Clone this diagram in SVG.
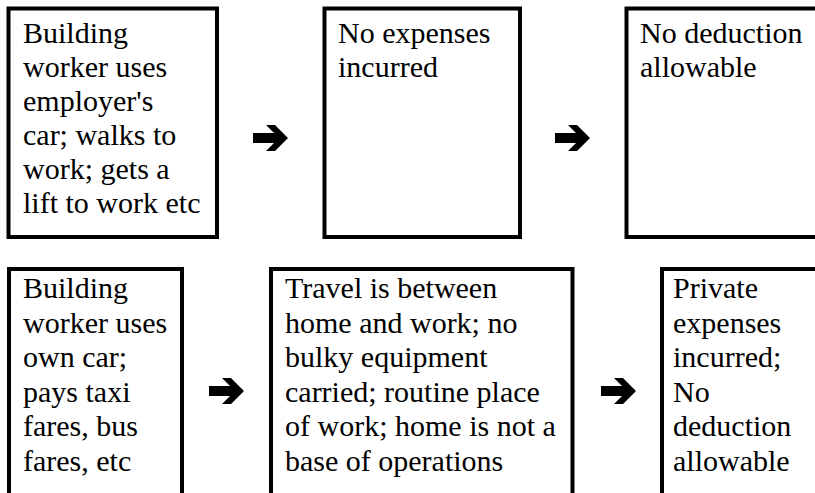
<svg xmlns="http://www.w3.org/2000/svg" width="815" height="493" viewBox="0 0 815 493">
<defs>
<path id="arrow" d="M0,-5 L21,-5 L13,-13 L22,-13 L35,0 L22,13 L13,13 L21,5 L0,5 Z"/>
</defs>
<rect width="815" height="493" fill="#fff"/>
<g id="n1">
<rect x="8.5" y="8.5" width="208.5" height="228.5" fill="#fff" stroke="#000" stroke-width="4"/>
<text x="23" y="43" font-size="30" font-family="Liberation Serif">Building</text>
<text x="23" y="77" font-size="30" font-family="Liberation Serif">worker uses</text>
<text x="23" y="111" font-size="30" font-family="Liberation Serif">employer's</text>
<text x="23" y="145" font-size="30" font-family="Liberation Serif">car; walks to</text>
<text x="23" y="179" font-size="30" font-family="Liberation Serif">work; gets a</text>
<text x="23" y="213" font-size="30" font-family="Liberation Serif">lift to work etc</text>
</g>
<g id="n2">
<rect x="324.5" y="8.5" width="195.5" height="228.5" fill="#fff" stroke="#000" stroke-width="4"/>
<text x="338" y="43" font-size="30" font-family="Liberation Serif">No expenses</text>
<text x="338" y="77" font-size="30" font-family="Liberation Serif">incurred</text>
</g>
<g id="n3">
<rect x="626.5" y="8.5" width="220" height="228.5" fill="#fff" stroke="#000" stroke-width="4"/>
<text x="640" y="43" font-size="30" font-family="Liberation Serif">No deduction</text>
<text x="640" y="77" font-size="30" font-family="Liberation Serif">allowable</text>
</g>
<g id="n4">
<rect x="9" y="269" width="173" height="250" fill="#fff" stroke="#000" stroke-width="4"/>
<text x="23" y="298" font-size="30" font-family="Liberation Serif">Building</text>
<text x="23" y="332.5" font-size="30" font-family="Liberation Serif">worker uses</text>
<text x="23" y="367" font-size="30" font-family="Liberation Serif">own car;</text>
<text x="23" y="401.5" font-size="30" font-family="Liberation Serif">pays taxi</text>
<text x="23" y="436" font-size="30" font-family="Liberation Serif">fares, bus</text>
<text x="23" y="470.5" font-size="30" font-family="Liberation Serif">fares, etc</text>
</g>
<g id="n5">
<rect x="271" y="269" width="301.5" height="250" fill="#fff" stroke="#000" stroke-width="4"/>
<text x="285" y="298" font-size="30" font-family="Liberation Serif">Travel is between</text>
<text x="285" y="332.5" font-size="30" font-family="Liberation Serif">home and work; no</text>
<text x="285" y="367" font-size="30" font-family="Liberation Serif">bulky equipment</text>
<text x="285" y="401.5" font-size="30" font-family="Liberation Serif">carried; routine place</text>
<text x="285" y="436" font-size="30" font-family="Liberation Serif">of work; home is not a</text>
<text x="285" y="470.5" font-size="30" font-family="Liberation Serif">base of operations</text>
</g>
<g id="n6">
<rect x="662" y="269" width="180" height="250" fill="#fff" stroke="#000" stroke-width="4"/>
<text x="673" y="298" font-size="30" font-family="Liberation Serif">Private</text>
<text x="673" y="332.5" font-size="30" font-family="Liberation Serif">expenses</text>
<text x="673" y="367" font-size="30" font-family="Liberation Serif">incurred;</text>
<text x="673" y="401.5" font-size="30" font-family="Liberation Serif">No</text>
<text x="673" y="436" font-size="30" font-family="Liberation Serif">deduction</text>
<text x="673" y="470.5" font-size="30" font-family="Liberation Serif">allowable</text>
</g>
<g id="connectors" fill="#000">
<use href="#arrow" transform="translate(253,138)"/>
<use href="#arrow" transform="translate(555,138)"/>
<use href="#arrow" transform="translate(209,391)"/>
<use href="#arrow" transform="translate(601,391)"/>
</g>
</svg>
